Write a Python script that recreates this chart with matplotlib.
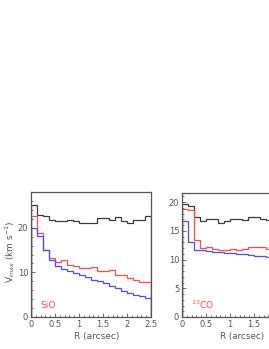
import numpy as np
import matplotlib
matplotlib.use("Agg")
import matplotlib.pyplot as plt
from matplotlib.ticker import MultipleLocator, FixedLocator

# bins de 0.125 arcsec
edges_sio = np.arange(21) * 0.125
edges_co = np.arange(16) * 0.125

# SiO (panneau gauche)
sio_black = [25.0, 22.8, 22.6, 21.8, 21.5, 21.5, 21.7, 21.5, 21.1, 21.1,
             21.1, 22.1, 22.1, 21.8, 22.4, 21.5, 21.0, 21.7, 21.8, 22.6]
sio_red = [22.6, 18.9, 14.9, 13.3, 12.3, 12.7, 11.6, 11.4, 11.0, 11.0,
           11.1, 10.4, 10.2, 10.5, 9.3, 9.3, 8.7, 8.4, 7.8, 7.8]
sio_blue = [20.0, 18.1, 14.9, 12.7, 11.4, 10.8, 10.3, 9.9, 9.3, 8.9,
            8.4, 8.1, 7.6, 7.0, 6.6, 5.9, 5.4, 4.9, 4.6, 4.3]

# 13CO (panneau droit, coupé par le bord de la figure)
co_black = [19.7, 19.3, 17.4, 16.7, 17.1, 17.1, 16.4, 16.8, 17.1, 17.1,
            16.9, 17.4, 17.4, 17.1, 16.9]
co_red = [18.9, 18.6, 13.4, 12.0, 12.2, 11.9, 11.7, 11.7, 11.9, 11.7,
          11.9, 12.2, 12.2, 12.2, 11.9]
co_blue = [16.7, 13.0, 11.7, 11.6, 11.5, 11.4, 11.3, 11.2, 11.1, 11.0,
           10.9, 10.8, 10.7, 10.6, 10.4]
co_xticks = [0, 0.5, 1, 1.5]

c_black = '#3a3a3a'
c_red = '#ff4a4a'
c_blue = '#4a4aff'
c_txt = '#555555'

fig = plt.figure(figsize=(2.69, 3.49), dpi=100)
ax1 = fig.add_axes([31/269, 32/349, 120/269, 125/349])
ax2 = fig.add_axes([182/269, 32/349, 120/269, 124/349])


def style(ax, ymax, ymaj, ymin):
    ax.set_xlim(0, 2.5)
    ax.set_ylim(0, ymax)
    ax.xaxis.set_major_locator(MultipleLocator(0.5))
    ax.xaxis.set_minor_locator(MultipleLocator(0.1))
    ax.yaxis.set_major_locator(MultipleLocator(ymaj))
    ax.yaxis.set_minor_locator(MultipleLocator(ymin))
    ax.tick_params(which='both', direction='in', colors=c_txt, labelsize=6,
                   width=0.6, pad=2, top=False, right=False)
    ax.tick_params(which='major', length=3)
    ax.tick_params(which='minor', length=1.5)
    ax.xaxis.set_major_formatter(lambda v, p: '%g' % v)
    for s in ax.spines.values():
        s.set_color('#555555')
        s.set_linewidth(0.9)


lw = 0.9
ax1.stairs(sio_black, edges_sio, baseline=0, color=c_black, lw=lw)
ax1.stairs(sio_red, edges_sio, baseline=0, color=c_red, lw=lw)
ax1.stairs(sio_blue, edges_sio, baseline=0, color=c_blue, lw=lw)
style(ax1, 28, 10, 2)
ax1.text(0.2, 2.5, 'SiO', color=c_red, fontsize=6.5, va='center')

ax2.stairs(co_black, edges_co, baseline=0, color=c_black, lw=lw)
ax2.stairs(co_red, edges_co, baseline=0, color=c_red, lw=lw)
ax2.stairs(co_blue, edges_co, baseline=0, color=c_blue, lw=lw)
style(ax2, 21.6, 5, 1)
# seulement les ticks visibles dans la figure
ax2.xaxis.set_major_locator(FixedLocator(co_xticks))
ax2.text(0.18, 2.1, r'$^{13}$CO', color=c_red, fontsize=6.5, va='center')

fig.text(97/269, 1 - 336/349, 'R (arcsec)', color=c_txt, fontsize=6.5,
         ha='center', va='center')
fig.text(242/269, 1 - 336/349, 'R (arcsec)', color=c_txt, fontsize=6.3,
         ha='center', va='center')
fig.text(10/269, 1 - 252/349, r'V$_{max}$ (km s$^{-1}$)', color=c_txt,
         fontsize=6.5, ha='center', va='center', rotation=90)

fig.savefig('out.png', dpi=100)
